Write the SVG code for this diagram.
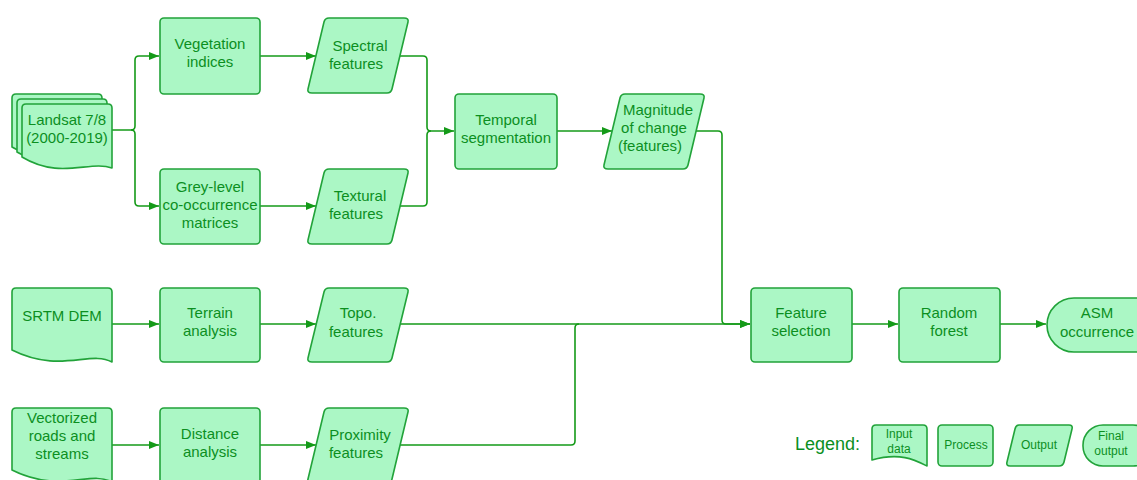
<svg xmlns="http://www.w3.org/2000/svg" width="1137" height="480" viewBox="0 0 1137 480">
<defs>
<style>
.n{fill:#abf7c5;stroke:#22a33a;stroke-width:1.6;stroke-linejoin:round}
.t{font-family:"Liberation Sans",Arial,sans-serif;font-size:15px;fill:#0c8f1f;text-anchor:middle}
.s{font-family:"Liberation Sans",Arial,sans-serif;font-size:12px;fill:#0c8f1f;text-anchor:middle}
.c{fill:none;stroke:#149a18;stroke-width:1.6}
</style>
<marker id="a" markerUnits="userSpaceOnUse" markerWidth="12" markerHeight="10" refX="10" refY="4" orient="auto"><path d="M0,0 L10,4 L0,8 z" fill="#149a18"/></marker>
</defs>
<rect width="1137" height="480" fill="#fff"/>
<g id="connectors">
<path class="c" d="M112,130 H131 Q135,130 135,126 V60 Q135,56 139,56 H159" marker-end="url(#a)"/>
<path class="c" d="M131,130 Q135,130 135,134 V202 Q135,206 139,206 H159" marker-end="url(#a)"/>
<path class="c" d="M260,56 H316" marker-end="url(#a)"/>
<path class="c" d="M260,206 H316" marker-end="url(#a)"/>
<path class="c" d="M400,56 H423 Q427,56 427,60 V127 Q427,131 431,131 H454" marker-end="url(#a)"/>
<path class="c" d="M400,206 H423 Q427,206 427,202 V135 Q427,131 431,131"/>
<path class="c" d="M557,131 H612" marker-end="url(#a)"/>
<path class="c" d="M696,131 H718 Q722,131 722,135 V320 Q722,324 726,324 H750" marker-end="url(#a)"/>
<path class="c" d="M112,324 H159" marker-end="url(#a)"/>
<path class="c" d="M260,324 H316" marker-end="url(#a)"/>
<path class="c" d="M400,324 H750" marker-end="url(#a)"/>
<path class="c" d="M400,445 H571 Q575,445 575,441 V328 Q575,324 579,324"/>
<path class="c" d="M112,445 H159" marker-end="url(#a)"/>
<path class="c" d="M260,445 H316" marker-end="url(#a)"/>
<path class="c" d="M852,324 H898" marker-end="url(#a)"/>
<path class="c" d="M1000,324 H1046" marker-end="url(#a)"/>
</g>
<g id="landsat">
<path class="n" d="M16,94 H98 Q102,94 102,98 V158 C80,150 50,170 12,147 V98 Q12,94 16,94 Z"/>
<path class="n" d="M21,99 H103 Q107,99 107,103 V163 C85,155 55,175 17,152 V103 Q17,99 21,99 Z"/>
<path class="n" d="M26,104 H108 Q112,104 112,108 V168 C90,160 60,180 22,157 V108 Q22,104 26,104 Z"/>
<text class="t" x="67" y="125">Landsat 7/8</text>
<text class="t" x="67" y="143">(2000-2019)</text>
</g>
<g id="srtm">
<path class="n" d="M16,288 H108 Q112,288 112,292 V362 C90,350 60,374 12,350 V292 Q12,288 16,288 Z"/>
<text class="t" x="62" y="321">SRTM DEM</text>
</g>
<g id="vector">
<path class="n" d="M16,408 H108 Q112,408 112,412 V482 C90,470 60,494 12,470 V412 Q12,408 16,408 Z"/>
<text class="t" x="62" y="423">Vectorized</text>
<text class="t" x="62" y="441">roads and</text>
<text class="t" x="62" y="459">streams</text>
</g>
<g id="veg">
<rect class="n" x="160" y="18" width="100" height="76" rx="4"/>
<text class="t" x="210" y="49">Vegetation</text>
<text class="t" x="210" y="67">indices</text>
</g>
<g id="glcm">
<rect class="n" x="160" y="169" width="100" height="75" rx="4"/>
<text class="t" x="210" y="192">Grey-level</text>
<text class="t" x="210" y="210">co-occurrence</text>
<text class="t" x="210" y="228">matrices</text>
</g>
<g id="terrain">
<rect class="n" x="160" y="288" width="100" height="74" rx="4"/>
<text class="t" x="210" y="318">Terrain</text>
<text class="t" x="210" y="336">analysis</text>
</g>
<g id="distance">
<rect class="n" x="160" y="408" width="100" height="76" rx="4"/>
<text class="t" x="210" y="439">Distance</text>
<text class="t" x="210" y="457">analysis</text>
</g>
<g id="spectral">
<path class="n" d="M329,18 H404 Q409,18 408,22 L392,89 Q391,93 387,93 H312 Q307,93 308,89 L324,22 Q325,18 329,18 Z"/>
<text class="t" x="360" y="51">Spectral</text>
<text class="t" x="356" y="69">features</text>
</g>
<g id="textural">
<path class="n" d="M329,169 H404 Q409,169 408,173 L392,240 Q391,244 387,244 H312 Q307,244 308,240 L324,173 Q325,169 329,169 Z"/>
<text class="t" x="360" y="201">Textural</text>
<text class="t" x="356" y="219">features</text>
</g>
<g id="topo">
<path class="n" d="M329,288 H404 Q409,288 408,292 L392,358 Q391,362 387,362 H312 Q307,362 308,358 L324,292 Q325,288 329,288 Z"/>
<text class="t" x="358" y="318">Topo.</text>
<text class="t" x="356" y="337">features</text>
</g>
<g id="proximity">
<path class="n" d="M329,408 H404 Q409,408 408,412 L392,479 Q391,483 387,483 H312 Q307,483 308,479 L324,412 Q325,408 329,408 Z"/>
<text class="t" x="360" y="440">Proximity</text>
<text class="t" x="356" y="458">features</text>
</g>
<g id="temporal">
<rect class="n" x="455" y="94" width="102" height="75" rx="4"/>
<text class="t" x="506" y="125">Temporal</text>
<text class="t" x="506" y="143">segmentation</text>
</g>
<g id="magnitude">
<path class="n" d="M625,94 H700 Q705,94 704,98 L688,165 Q687,169 683,169 H608 Q603,169 604,165 L620,98 Q621,94 625,94 Z"/>
<text class="t" x="658" y="115">Magnitude</text>
<text class="t" x="654" y="133">of change</text>
<text class="t" x="650" y="151">(features)</text>
</g>
<g id="feature">
<rect class="n" x="751" y="288" width="101" height="74" rx="4"/>
<text class="t" x="801" y="318">Feature</text>
<text class="t" x="801" y="336">selection</text>
</g>
<g id="rf">
<rect class="n" x="899" y="288" width="101" height="74" rx="4"/>
<text class="t" x="949" y="318">Random</text>
<text class="t" x="949" y="336">forest</text>
</g>
<g id="asm">
<rect class="n" x="1047" y="298" width="120" height="54" rx="27"/>
<text class="t" x="1097" y="318">ASM</text>
<text class="t" x="1097" y="337">occurrence</text>
</g>
<g id="legend">
<text x="795" y="450" style="font-family:'Liberation Sans',Arial,sans-serif;font-size:18px;fill:#0c8f1f">Legend:</text>
<path class="n" d="M876,425 H923 Q927,425 927,429 V466 C915,460 900,452 872,460 V429 Q872,425 876,425 Z"/>
<text class="s" x="899" y="438">Input</text>
<text class="s" x="899" y="453">data</text>
<rect class="n" x="938" y="425" width="55" height="41" rx="4"/>
<text class="s" x="966" y="449">Process</text>
<path class="n" d="M1019,425 H1069 Q1073,425 1072,429 L1064,462 Q1063,466 1059,466 H1010 Q1006,466 1007,462 L1015,429 Q1016,425 1019,425 Z"/>
<text class="s" x="1039" y="449">Output</text>
<rect class="n" x="1083" y="425" width="70" height="41" rx="20"/>
<text class="s" x="1111" y="440">Final</text>
<text class="s" x="1111" y="455">output</text>
</g>
</svg>
